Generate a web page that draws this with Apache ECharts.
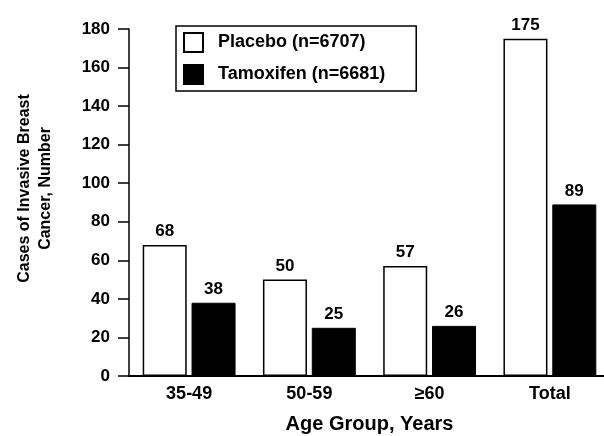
<!DOCTYPE html>
<html>
<head>
<meta charset="utf-8">
<script src="https://cdn.jsdelivr.net/npm/echarts@6/dist/echarts.min.js"></script>
<style>html,body{margin:0;padding:0;background:#fff;}#c{width:604px;height:436px;}</style>
</head>
<body>
<div id="c"></div>
<script>
const categories = ['35-49', '50-59', '\u226560', 'Total'];
const placebo = [68, 50, 57, 175];
const tamoxifen = [38, 25, 26, 89];
const seriesNames = ['Placebo (n=6707)', 'Tamoxifen (n=6681)'];
const yTicks = { min: 0, max: 180, interval: 20 };

const FONT = "'Liberation Sans', Arial, sans-serif";
const chart = echarts.init(document.getElementById('c'), null, { renderer: 'canvas' });
const labelStyle = { show: true, position: 'top', distance: 5, color: '#000', fontFamily: FONT, fontWeight: 'bold', fontSize: 17 };
chart.setOption({
  animation: false,
  backgroundColor: '#fff',
  grid: { left: 129, top: 29, width: 481, height: 347, containLabel: false, outerBoundsMode: 'none' },
  legend: {
    orient: 'vertical', left: 176, top: 26,
    padding: [6, 31, 6, 7], itemGap: 11, itemWidth: 19, itemHeight: 19,
    borderColor: '#000', borderWidth: 1.5,
    textStyle: { color: '#000', fontFamily: FONT, fontWeight: 'bold', fontSize: 18, padding: [0, 0, 0, 10] },
    data: [
      { name: seriesNames[0], icon: 'rect' },
      { name: seriesNames[1], icon: 'rect' }
    ]
  },
  xAxis: {
    type: 'category', data: categories,
    name: 'Age Group, Years', nameLocation: 'middle', nameGap: 38,
    nameTextStyle: { color: '#000', fontFamily: FONT, fontWeight: 'bold', fontSize: 20 },
    axisLine: { lineStyle: { color: '#000', width: 2 } },
    axisTick: { show: false },
    axisLabel: { color: '#000', fontFamily: FONT, fontWeight: 'bold', fontSize: 18, margin: 9 },
    splitLine: { show: false }
  },
  yAxis: {
    type: 'value', min: yTicks.min, max: yTicks.max, interval: yTicks.interval,
    name: 'Cases of Invasive Breast\nCancer, Number', nameLocation: 'middle', nameGap: 73, nameRotate: 90,
    nameTextStyle: { color: '#000', fontFamily: FONT, fontWeight: 'bold', fontSize: 16, lineHeight: 21, padding: [0, 0, 0, 28] },
    axisLine: { show: true, lineStyle: { color: '#000', width: 1.5 } },
    axisTick: { show: true, inside: false, length: 11, lineStyle: { color: '#000', width: 1.5 } },
    axisLabel: { color: '#000', fontFamily: FONT, fontWeight: 'bold', fontSize: 17, margin: 19 },
    splitLine: { show: false }
  },
  series: [
    {
      name: seriesNames[0], type: 'bar', data: placebo, barWidth: 44, barGap: '11%',
      itemStyle: { color: '#fff', borderColor: '#000', borderWidth: 1.5 },
      label: labelStyle
    },
    {
      name: seriesNames[1], type: 'bar', data: tamoxifen, barWidth: 44,
      itemStyle: { color: '#000', borderColor: '#000', borderWidth: 1 },
      label: labelStyle
    }
  ]
});
</script>
</body>
</html>
